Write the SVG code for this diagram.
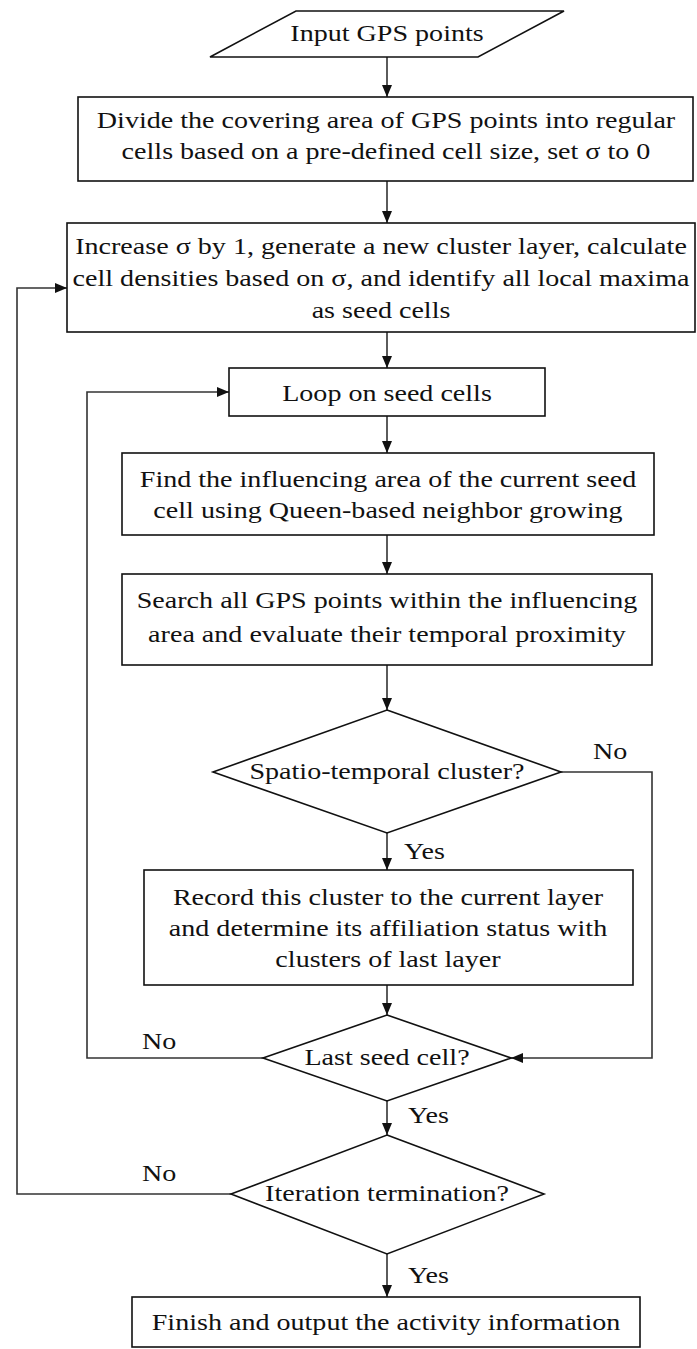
<svg xmlns="http://www.w3.org/2000/svg" width="697" height="1349" viewBox="0 0 697 1349">
<defs>
<marker id="ah" markerUnits="userSpaceOnUse" markerWidth="12" markerHeight="10" refX="12" refY="5" orient="auto">
<path d="M0,0 L12,5 L0,10 z" fill="#111"/>
</marker>
<style>
.n{fill:#fff;stroke:#111;stroke-width:1.6}
.c{fill:none;stroke:#333;stroke-width:1.6;marker-end:url(#ah)}
.t{font-family:"Liberation Serif","Times New Roman",serif;font-size:24px;fill:#111;text-anchor:middle}
.l{font-family:"Liberation Serif","Times New Roman",serif;font-size:24px;fill:#111}
</style>
</defs>
<rect width="697" height="1349" fill="#fff"/>
<g id="connectors">
<path class="c" d="M387,57 V97"/>
<path class="c" d="M387,181 V223"/>
<path class="c" d="M387,332 V368"/>
<path class="c" d="M387,416 V453"/>
<path class="c" d="M387,535 V574"/>
<path class="c" d="M387,665 V710"/>
<path class="c" d="M387,833 V870"/>
<path class="c" d="M387,985 V1015"/>
<path class="c" d="M387,1101 V1135"/>
<path class="c" d="M387,1254 V1297"/>
<path class="c" d="M561,772 H652 V1058 H511"/>
<path class="c" d="M263,1058 H87 V392 H229"/>
<path class="c" d="M231,1194 H17 V288 H67"/>
<text class="l" transform="translate(593,759) scale(1.17,1)">No</text>
<text class="l" transform="translate(404,859) scale(1.17,1)">Yes</text>
<text class="l" transform="translate(142,1049) scale(1.17,1)">No</text>
<text class="l" transform="translate(408,1123) scale(1.17,1)">Yes</text>
<text class="l" transform="translate(142,1181) scale(1.17,1)">No</text>
<text class="l" transform="translate(408,1283) scale(1.17,1)">Yes</text>
</g>
<g id="input">
<polygon class="n" points="296,11 564,11 478,57 210,57"/>
<text class="t" transform="translate(387,41) scale(1.17,1)">Input GPS points</text>
</g>
<g id="divide">
<rect class="n" x="78" y="97" width="615" height="84"/>
<text class="t" transform="translate(386,128) scale(1.17,1)">Divide the covering area of GPS points into regular</text>
<text class="t" transform="translate(386,159) scale(1.17,1)">cells based on a pre-defined cell size, set σ to 0</text>
</g>
<g id="increase">
<rect class="n" x="67" y="223" width="628" height="109"/>
<text class="t" transform="translate(381,254) scale(1.17,1)">Increase σ by 1, generate a new cluster layer, calculate</text>
<text class="t" transform="translate(381,286) scale(1.17,1)">cell densities based on σ, and identify all local maxima</text>
<text class="t" transform="translate(381,318) scale(1.17,1)">as seed cells</text>
</g>
<g id="loop">
<rect class="n" x="229" y="368" width="316" height="48"/>
<text class="t" transform="translate(387,401) scale(1.17,1)">Loop on seed cells</text>
</g>
<g id="find">
<rect class="n" x="122" y="453" width="532" height="82"/>
<text class="t" transform="translate(388,487) scale(1.17,1)">Find the influencing area of the current seed</text>
<text class="t" transform="translate(388,518) scale(1.17,1)">cell using Queen-based neighbor growing</text>
</g>
<g id="search">
<rect class="n" x="122" y="574" width="530" height="91"/>
<text class="t" transform="translate(387,608) scale(1.17,1)">Search all GPS points within the influencing</text>
<text class="t" transform="translate(387,642) scale(1.17,1)">area and evaluate their temporal proximity</text>
</g>
<g id="spatio">
<polygon class="n" points="387,710 561,772 387,833 213,772"/>
<text class="t" transform="translate(387,779) scale(1.17,1)">Spatio-temporal cluster?</text>
</g>
<g id="record">
<rect class="n" x="144" y="870" width="489" height="115"/>
<text class="t" transform="translate(388,905) scale(1.17,1)">Record this cluster to the current layer</text>
<text class="t" transform="translate(388,936) scale(1.17,1)">and determine its affiliation status with</text>
<text class="t" transform="translate(388,967) scale(1.17,1)">clusters of last layer</text>
</g>
<g id="lastseed">
<polygon class="n" points="387,1015 511,1058 387,1101 263,1058"/>
<text class="t" transform="translate(387,1065) scale(1.17,1)">Last seed cell?</text>
</g>
<g id="iteration">
<polygon class="n" points="387,1135 544,1194 387,1254 231,1194"/>
<text class="t" transform="translate(387,1201) scale(1.17,1)">Iteration termination?</text>
</g>
<g id="finish">
<rect class="n" x="132" y="1297" width="508" height="50"/>
<text class="t" transform="translate(386,1330) scale(1.17,1)">Finish and output the activity information</text>
</g>
</svg>
